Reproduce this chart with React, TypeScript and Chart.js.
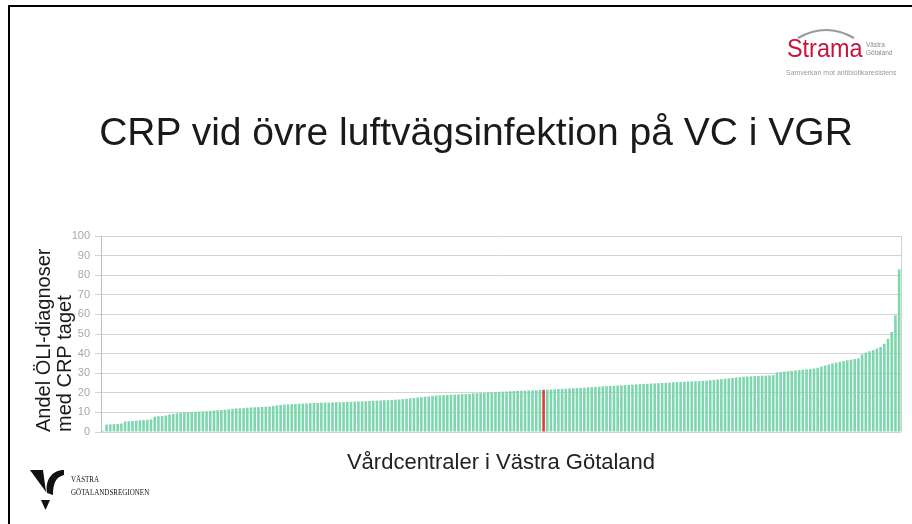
import React, { useEffect, useRef } from 'react';
import { Chart, registerables } from 'chart.js';

Chart.register(...registerables);

// Andel ÖLI-diagnoser med CRP taget (%) per vårdcentral, sorted ascending
const values: number[] = [
  0.6,
  3.8, 3.9, 4.0, 4.1, 4.3,
  5.4, 5.5, 5.6, 5.8,
  6.0, 6.1, 6.2, 6.4,
  7.8, 8.0, 8.1, 8.4,
  8.9, 9.2, 9.5, 9.7, 9.9,
  10.1, 10.2, 10.3, 10.4, 10.5,
  10.6, 10.8, 11.0, 11.1, 11.2, 11.4, 11.6, 11.8,
  12.0, 12.1, 12.2, 12.4, 12.5, 12.6, 12.7, 12.8, 12.9, 13.0,
  13.3, 13.6, 13.8, 14.0, 14.1, 14.2, 14.3, 14.4, 14.5,
  14.6, 14.7, 14.8, 14.8, 14.9, 15.0, 15.0, 15.1, 15.2, 15.2, 15.3, 15.4, 15.4, 15.5, 15.6, 15.6, 15.7, 15.8,
  15.9, 16.0, 16.1, 16.2, 16.3, 16.4, 16.5, 16.6, 16.8,
  17.0, 17.2, 17.4, 17.6, 17.8, 18.0, 18.2, 18.4, 18.6,
  18.7, 18.8, 18.9, 19.0, 19.1, 19.2, 19.3, 19.4, 19.5,
  19.7, 19.8, 19.9, 20.0, 20.1, 20.2, 20.4, 20.5, 20.6,
  20.7, 20.8, 20.9, 21.0, 21.0, 21.1, 21.2, 21.2, 21.3, 21.4,
  21.5,
  21.6, 21.7, 21.8, 21.9, 22.0, 22.1, 22.2, 22.3,
  22.4, 22.5, 22.6, 22.8, 22.9, 23.0, 23.1, 23.3, 23.4,
  23.5, 23.6, 23.7, 23.8, 23.9, 24.0, 24.1, 24.3, 24.4,
  24.5, 24.6, 24.7, 24.8, 24.9, 25.0, 25.1, 25.2, 25.3,
  25.4, 25.5, 25.6, 25.7, 25.8, 25.9, 26.0, 26.1, 26.2,
  26.4, 26.6, 26.8, 27.0, 27.2, 27.4, 27.6, 27.8, 28.0,
  28.2, 28.3, 28.4, 28.5, 28.6, 28.7, 28.8, 28.9, 29.0,
  30.4, 30.6, 30.8, 31.0, 31.2, 31.4,
  31.6, 31.8, 32.0, 32.2, 32.4, 32.8,
  33.4, 33.9, 34.4, 35.0,
  35.4, 35.8, 36.2, 36.6,
  36.9, 37.2, 37.6,
  39.6, 40.5, 41.2, 41.8, 42.6, 43.4,
  45.0, 47.5, 51.0, 59.5, 83.0,
];

const categories: string[] = values.map((_, i) => `VC ${i + 1}`);
const highlightCategory = 'VC 120';

const slideTitle = 'CRP vid övre luftvägsinfektion på VC i VGR';
const yAxisTitle = ['Andel ÖLI-diagnoser', 'med CRP taget'];
const xAxisTitle = 'Vårdcentraler i Västra Götaland';

const SANS = '"Liberation Sans", Arial, sans-serif';
const SERIF = '"Liberation Serif", "Times New Roman", serif';
const GREEN = '#7dd6ae';
const RED = '#e23b3b';

export default function App() {
  const ref = useRef<HTMLCanvasElement>(null);

  useEffect(() => {
    const rightBorder = {
      id: 'rightBorder',
      afterDraw(chart: any) {
        const { ctx, chartArea: a } = chart;
        ctx.save();
        ctx.strokeStyle = '#d0d0d0';
        ctx.lineWidth = 1;
        ctx.beginPath();
        ctx.moveTo(Math.round(a.right) + 0.5, a.top);
        ctx.lineTo(Math.round(a.right) + 0.5, a.bottom);
        ctx.stroke();
        ctx.restore();
      },
    };

    const chart = new Chart(ref.current as HTMLCanvasElement, {
      type: 'bar',
      data: {
        labels: categories,
        datasets: [
          {
            data: values,
            backgroundColor: categories.map((c) => (c === highlightCategory ? RED : GREEN)),
            barPercentage: 0.7,
            categoryPercentage: 1,
          },
        ],
      },
      options: {
        animation: false,
        responsive: false,
        maintainAspectRatio: false,
        layout: { padding: { left: 20, right: 11, top: 236, bottom: 40 } },
        plugins: { legend: { display: false }, tooltip: { enabled: false } },
        scales: {
          x: {
            grid: { display: false },
            border: { display: false },
            ticks: { display: false },
            title: {
              display: true,
              text: xAxisTitle,
              color: '#222222',
              font: { family: SANS, size: 22, lineHeight: 1.2 },
              padding: { top: 0, bottom: 8 },
            },
            afterFit: (s: any) => {
              s.height = 52;
            },
          },
          y: {
            min: 0,
            max: 100,
            ticks: {
              stepSize: 10,
              color: '#a8a8a8',
              font: { family: SANS, size: 11 },
              padding: 5,
            },
            grid: { color: '#d4d4d4', tickLength: 6 },
            border: { color: '#bdbdbd' },
            title: {
              display: true,
              text: yAxisTitle,
              align: 'start',
              color: '#1a1a1a',
              font: { family: SANS, size: 20, lineHeight: 1.05 },
              padding: { top: 14, bottom: 0 },
            },
            afterFit: (s: any) => {
              s.width = 81;
            },
          },
        },
      } as any,
      plugins: [rightBorder],
    });
    return () => chart.destroy();
  }, []);

  return (
    <div
      style={{
        position: 'fixed',
        left: 0,
        top: 0,
        width: 912,
        height: 524,
        overflow: 'hidden',
        background: '#ffffff',
        fontFamily: SANS,
      }}
    >
      <div
        style={{
          position: 'absolute',
          left: 8,
          top: 5,
          width: 940,
          height: 560,
          borderTop: '2px solid #000',
          borderLeft: '2px solid #000',
          boxSizing: 'border-box',
        }}
      />
      <canvas
        ref={ref}
        width={912}
        height={524}
        style={{ position: 'absolute', left: 0, top: 0, display: 'block' }}
      />
      {/* Slide title */}
      <div
        style={{
          position: 'absolute',
          left: 0,
          top: 112,
          width: 952,
          textAlign: 'center',
          fontSize: 39,
          lineHeight: '39px',
          color: '#1a1a1a',
          whiteSpace: 'nowrap',
        }}
      >
        {slideTitle}
      </div>
      {/* Strama logo */}
      <svg style={{ position: 'absolute', left: 796, top: 26 }} width={60} height={14}>
        <path d="M2 12 Q 30 -4 58 12" stroke="#9a9a9a" strokeWidth={2.2} fill="none" />
      </svg>
      <div
        style={{
          position: 'absolute',
          left: 787,
          top: 35,
          fontSize: 26,
          lineHeight: '26px',
          color: '#c2163f',
          transform: 'scaleX(0.9)',
          transformOrigin: 'left top',
          whiteSpace: 'nowrap',
        }}
      >
        Strama
      </div>
      <div
        style={{
          position: 'absolute',
          left: 866,
          top: 41,
          fontSize: 6.5,
          lineHeight: '7.5px',
          color: '#8a8a8a',
          whiteSpace: 'nowrap',
        }}
      >
        Västra
        <br />
        Götaland
      </div>
      <div
        style={{
          position: 'absolute',
          left: 786,
          top: 69,
          fontSize: 7,
          lineHeight: '8px',
          color: '#9a9a9a',
          whiteSpace: 'nowrap',
        }}
      >
        Samverkan mot antibiotikaresistens
      </div>
      {/* VGR logo */}
      <svg style={{ position: 'absolute', left: 30, top: 468 }} width={38} height={44}>
        <polygon points="0,2 13,2 16,24" fill="#111" />
        <path d="M17 25 C 15 12, 22 2, 34 2 L 34 7 C 26 9, 23 15, 23 27 Z" fill="#111" />
        <polygon points="11,32 20,32 15.5,42" fill="#111" />
      </svg>
      <div
        style={{
          position: 'absolute',
          left: 71,
          top: 473,
          fontFamily: SERIF,
          fontSize: 9,
          lineHeight: '13px',
          color: '#111',
          transform: 'scaleX(0.78)',
          transformOrigin: 'left top',
          whiteSpace: 'nowrap',
        }}
      >
        VÄSTRA
        <br />
        GÖTALANDSREGIONEN
      </div>
    </div>
  );
}
